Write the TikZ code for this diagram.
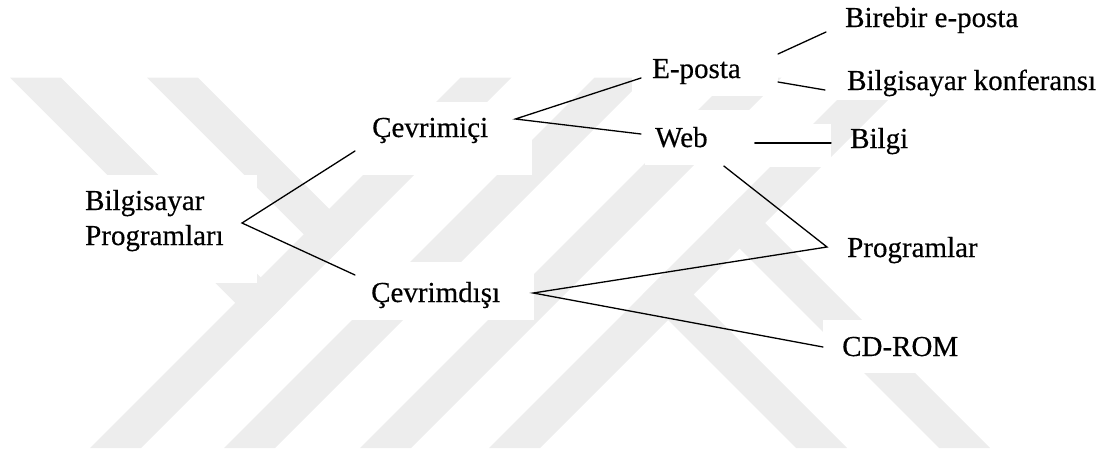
\documentclass[tikz,border=0pt]{standalone}
\usepackage{fontspec}
\setmainfont[FakeBold=0.4]{Liberation Serif}
\usetikzlibrary{calc}
\definecolor{wmgray}{HTML}{EDEDED}
\begin{document}
\begin{tikzpicture}[x=1pt,y=-1pt,
  lbl/.style={inner sep=0pt, anchor=base west, font=\fontsize{29}{35}\selectfont},
  link/.style={line width=1.3pt, line cap=round},
  band/.style={fill=wmgray, draw=none},
  blank/.style={fill=white, draw=none}]
\useasboundingbox (0,0) rectangle (1108,453);

% striped background emblem
\fill[band] (90,448) -- (141,448) -- (511.5,77.5) -- (460.5,77.5) -- cycle;
\fill[band] (224,448) -- (275,448) -- (645.5,77.5) -- (594.5,77.5) -- cycle;
\fill[band] (360,448) -- (411,448) -- (781.5,77.5) -- (730.5,77.5) -- cycle;
\fill[band] (489,448) -- (540,448) -- (910.5,77.5) -- (859.5,77.5) -- cycle;
\fill[band] (10,77.5) -- (61,77.5) -- (286.25,302.75) -- (260.75,328.25) -- cycle;
\fill[band] (147,77.5) -- (198,77.5) -- (354.75,234.25) -- (329.25,259.75) -- cycle;
\fill[band] (642.5,294.5) -- (668,269) -- (847,448) -- (796,448) -- cycle;
\fill[band] (714,223) -- (739.5,197.5) -- (990,448) -- (939,448) -- cycle;

% white patches behind the labels
\fill[blank] (82,175) rectangle (257,283);
\fill[blank] (352,102) rectangle (532,175);
\fill[blank] (352,262) rectangle (534,320);
\fill[blank] (632,50) rectangle (778,96);
\fill[blank] (645,110) rectangle (757,165);
\fill[blank] (757,124) rectangle (831,167);
\fill[blank] (823,320) rectangle (975,373);
\fill[blank] (826,62) rectangle (1100,100);

% labels (the two-line label sits on the baseline of its last line)
\node[lbl, align=left] (bp) at (85,245) {Bilgisayar\\Programları};
\node[lbl] (on) at (372,137) {Çevrimiçi};
\node[lbl] (off) at (371,302) {Çevrimdışı};
\node[lbl] (ep) at (652,78) {E-posta};
\node[lbl] (web) at (655,147) {Web};
\node[lbl] (bire) at (845,27) {Birebir e-posta};
\node[lbl] (konf) at (847,90) {Bilgisayar konferansı};
\node[lbl] (bilgi) at (850,148) {Bilgi};
\node[lbl] (prog) at (847,257) {Programlar};
\node[lbl] (cd) at (842,356) {CD-ROM};

% branches
\draw[link] ($(on.base west)+(-17,14)$) -- ($(bp.base west)+(157,-22)$) -- ($(off.base west)+(-16,-27)$);
\draw[link] ($(ep.base west)+(-11,0)$) -- ($(on.base east)+(27,-18)$) -- ($(web.base west)+(-14,-13)$);
\draw[link] ($(ep.base east)+(37,-24)$) -- ($(bire.base west)+(-19,5)$);
\draw[link] ($(ep.base east)+(37,4)$) -- ($(konf.base west)+(-22,0)$);
\draw[link] ($(web.base east)+(47,-4)$) -- ($(bilgi.base west)+(-19,-5)$);
\draw[link] ($(web.base east)+(16,19)$) -- ($(prog.base west)+(-20,-10)$) -- ($(off.base east)+(33,-9)$) -- ($(cd.base west)+(-19,-9)$);
\end{tikzpicture}
\end{document}
